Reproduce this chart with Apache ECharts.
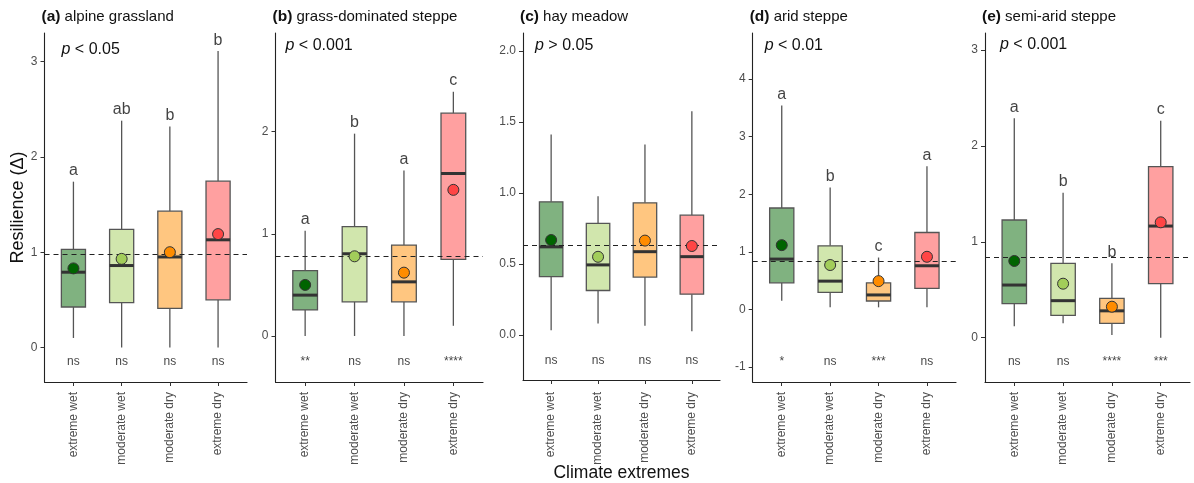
<!DOCTYPE html>
<html>
<head>
<meta charset="utf-8">
<script src="https://cdn.jsdelivr.net/npm/echarts@6/dist/echarts.min.js"></script>
<style>
  html, body { margin: 0; padding: 0; background: #fff; }
  #chart { width: 1194px; height: 483px; }
</style>
</head>
<body>
<div id="chart"></div>
<script>
// categories (x axis of every panel)
const categories = ['extreme wet', 'moderate wet', 'moderate dry', 'extreme dry']
const panelTags = ['(a)', '(b)', '(c)', '(d)', '(e)']
const panelNames = ['alpine grassland', 'grass-dominated steppe', 'hay meadow', 'arid steppe', 'semi-arid steppe']
const pLabels = ['< 0.05', '< 0.001', '> 0.05', '< 0.01', '< 0.001']

// box stats: [min, q1, median, q3, max] per climate extreme
const alpineBox = [[0.10, 0.425, 0.79, 1.03, 1.74], [0.0, 0.47, 0.86, 1.24, 2.38], [0.0, 0.41, 0.95, 1.43, 2.32], [0.0, 0.50, 1.13, 1.745, 3.11]]
const alpineMean = [0.83, 0.93, 1.00, 1.19]
const alpineLetters = ['a', 'ab', 'b', 'b']
const alpineSig = ['ns', 'ns', 'ns', 'ns']

const grassBox = [[0.0, 0.255, 0.40, 0.64, 1.03], [0.0, 0.335, 0.805, 1.07, 1.98], [0.0, 0.335, 0.53, 0.89, 1.62], [0.10, 0.75, 1.59, 2.18, 2.39]]
const grassMean = [0.50, 0.78, 0.62, 1.43]
const grassLetters = ['a', 'b', 'a', 'c']
const grassSig = ['**', 'ns', 'ns', '****']

const hayBox = [[0.033, 0.41, 0.62, 0.937, 1.41], [0.08, 0.313, 0.493, 0.785, 0.977], [0.065, 0.407, 0.586, 0.93, 1.34], [0.026, 0.287, 0.551, 0.843, 1.575]]
const hayMean = [0.668, 0.55, 0.664, 0.626]
const hayLetters = ['', '', '', '']
const haySig = ['ns', 'ns', 'ns', 'ns']

const aridBox = [[0.15, 0.46, 0.873, 1.76, 3.54], [0.035, 0.295, 0.49, 1.104, 2.115], [0.035, 0.145, 0.25, 0.46, 0.90], [0.035, 0.364, 0.757, 1.335, 2.485]]
const aridMean = [1.115, 0.77, 0.49, 0.913]
const aridLetters = ['a', 'b', 'c', 'a']
const aridSig = ['*', 'ns', '***', 'ns']

const semiBox = [[0.12, 0.355, 0.549, 1.227, 2.287], [0.15, 0.233, 0.386, 0.775, 1.512], [0.028, 0.15, 0.28, 0.41, 0.775], [0.0, 0.563, 1.164, 1.783, 2.263]]
const semiMean = [0.80, 0.563, 0.323, 1.203]
const semiLetters = ['a', 'b', 'b', 'c']
const semiSig = ['ns', 'ns', '****', '***']

// dashed reference line (overall mean) per panel
const refLines = [0.98, 0.78, 0.63, 0.827, 0.845]
// y tick labels per panel
const yTicks = [[0, 1, 2, 3], [0, 1, 2], [0, 0.5, 1, 1.5, 2], [-1, 0, 1, 2, 3, 4], [0, 1, 2, 3]]
// where the significance marks sit (data units)
const sigLevel = [-0.15, -0.25, -0.18, -0.91, -0.25]

const boxes = [alpineBox, grassBox, hayBox, aridBox, semiBox]
const means = [alpineMean, grassMean, hayMean, aridMean, semiMean]
const letters = [alpineLetters, grassLetters, hayLetters, aridLetters, semiLetters]
const sigs = [alpineSig, grassSig, haySig, aridSig, semiSig]

// layout / style
const yMin = [-0.362, -0.45, -0.317, -1.262, -0.462]
const yMax = [3.30, 2.965, 2.125, 4.80, 3.177]
const gridLeft = [44.5, 275.5, 523, 752.7, 985]
const gridRight = [247, 483, 720, 956, 1190]
const gridBottom = [382, 382, 380, 382, 382]
const pOffset = [17, 10, 12, 12, 15]
const pCenter = [51, 46.5, 46.5, 46.5, 46]
const boxFill = ['#80b280', '#d1e6ad', '#ffc680', '#ffa0a0']
const dotFill = ['#006400', '#a2cd5a', '#ff8c00', '#ff4545']
const font = 'Liberation Sans, Arial, sans-serif'

const W = 1194, H = 483

const chart = echarts.init(document.getElementById('chart'), null, { renderer: 'canvas' })

function renderBox(params, api) {
  const x = api.value(0)
  const pMin = api.coord([x, api.value(1)])
  const pQ1 = api.coord([x, api.value(2)])
  const pMed = api.coord([x, api.value(3)])
  const pQ3 = api.coord([x, api.value(4)])
  const pMax = api.coord([x, api.value(5)])
  const w = api.size([0.5, 0])[0]
  const edge = { stroke: '#555', lineWidth: 1.3 }
  return {
    type: 'group',
    children: [
      { type: 'line', shape: { x1: pMin[0], y1: pMin[1], x2: pQ1[0], y2: pQ1[1] }, style: edge },
      { type: 'line', shape: { x1: pQ3[0], y1: pQ3[1], x2: pMax[0], y2: pMax[1] }, style: edge },
      { type: 'rect', shape: { x: pQ3[0] - w / 2, y: pQ3[1], width: w, height: pQ1[1] - pQ3[1] },
        style: { fill: boxFill[params.dataIndex], stroke: '#555', lineWidth: 1.3 } },
      { type: 'line', shape: { x1: pMed[0] - w / 2, y1: pMed[1], x2: pMed[0] + w / 2, y2: pMed[1] },
        style: { stroke: '#333', lineWidth: 3 } }
    ]
  }
}

const grid = [], xAxis = [], yAxis = [], series = [], title = []

boxes.forEach((panel, k) => {
  grid.push({
    left: gridLeft[k], width: gridRight[k] - gridLeft[k],
    top: 33, bottom: H - gridBottom[k],
    outerBoundsMode: 'none', containLabel: false
  })
  xAxis.push({
    gridIndex: k, type: 'value', min: 0.4, max: 4.6,
    splitLine: { show: false },
    axisLine: { onZero: false, lineStyle: { color: '#222', width: 1.1 } },
    axisTick: { customValues: [1, 2, 3, 4], length: 4, lineStyle: { color: '#333' } },
    axisLabel: {
      customValues: [1, 2, 3, 4], rotate: 90, margin: gridBottom[k] === 380 ? 12 : 10,
      color: '#4d4d4d', fontSize: 12, fontFamily: font,
      formatter: v => categories[Math.round(v) - 1]
    },
    name: k === 2 ? 'Climate extremes' : '',
    nameLocation: 'middle', nameGap: 84, nameMoveOverlap: false,
    nameTextStyle: { fontSize: 17.5, color: '#111', fontFamily: font }
  })
  yAxis.push({
    gridIndex: k, type: 'value', min: yMin[k], max: yMax[k],
    splitLine: { show: false },
    axisLine: { show: true, onZero: false, lineStyle: { color: '#222', width: 1.1 } },
    axisTick: { show: true, customValues: yTicks[k], length: 4, lineStyle: { color: '#333' } },
    axisLabel: {
      customValues: yTicks[k], margin: 7, color: '#4d4d4d', fontSize: 12, fontFamily: font,
      formatter: v => (k === 2 ? v.toFixed(1) : String(v))
    },
    name: k === 0 ? 'Resilience (Δ)' : '',
    nameLocation: 'middle', nameGap: 17, nameMoveOverlap: false,
    nameTextStyle: { fontSize: 18, color: '#111', fontFamily: font }
  })

  // boxes, whiskers, medians
  series.push({
    type: 'custom', xAxisIndex: k, yAxisIndex: k, z: 2,
    renderItem: renderBox,
    encode: { x: 0, y: [1, 2, 3, 4, 5] },
    data: panel.map((b, i) => [i + 1].concat(b)),
    silent: true
  })

  // dashed overall line + compact letters above whiskers
  series.push({
    type: 'scatter', xAxisIndex: k, yAxisIndex: k, z: 3,
    symbolSize: 0,
    data: panel.map((b, i) => [i + 1, b[4]]),
    label: {
      show: true, position: 'top', distance: 3,
      fontSize: 16, color: '#111', fontFamily: font,
      formatter: p => letters[k][p.dataIndex]
    },
    markLine: {
      silent: true, symbol: ['none', 'none'], label: { show: false },
      lineStyle: { type: [5, 4], color: '#222', width: 1.2 },
      data: [{ yAxis: refLines[k] }]
    },
    silent: true
  })

  // mean points
  series.push({
    type: 'scatter', xAxisIndex: k, yAxisIndex: k, z: 6,
    symbolSize: 11,
    data: means[k].map((m, i) => [i + 1, m]),
    itemStyle: {
      color: p => dotFill[p.dataIndex],
      borderColor: '#333', borderWidth: 1, opacity: 1
    },
    silent: true
  })

  // significance vs. zero
  series.push({
    type: 'scatter', xAxisIndex: k, yAxisIndex: k, z: 3,
    symbolSize: 0,
    data: sigs[k].map((s, i) => [i + 1, sigLevel[k]]),
    label: {
      show: true, position: 'inside', fontSize: 12, color: '#111', fontFamily: font,
      formatter: p => sigs[k][p.dataIndex]
    },
    silent: true
  })

  title.push({
    left: gridLeft[k] - 8, top: 4,
    text: '{b|' + panelTags[k] + '} ' + panelNames[k],
    textStyle: {
      fontSize: 15, fontWeight: 'normal', color: '#111', fontFamily: font,
      rich: { b: { fontSize: 15.5, fontWeight: 'bold', color: '#111', fontFamily: font } }
    }
  })
  title.push({
    left: gridLeft[k] + pOffset[k] - 5, top: pCenter[k] - 14,
    text: '{i|p} ' + pLabels[k],
    textStyle: {
      fontSize: 16, fontWeight: 'normal', color: '#111', fontFamily: font,
      rich: { i: { fontSize: 16, fontStyle: 'italic', color: '#111', fontFamily: font } }
    }
  })
})

chart.setOption({
  animation: false,
  backgroundColor: '#fff',
  textStyle: { fontFamily: font },
  title: title,
  grid: grid,
  xAxis: xAxis,
  yAxis: yAxis,
  series: series
})
</script>
</body>
</html>
